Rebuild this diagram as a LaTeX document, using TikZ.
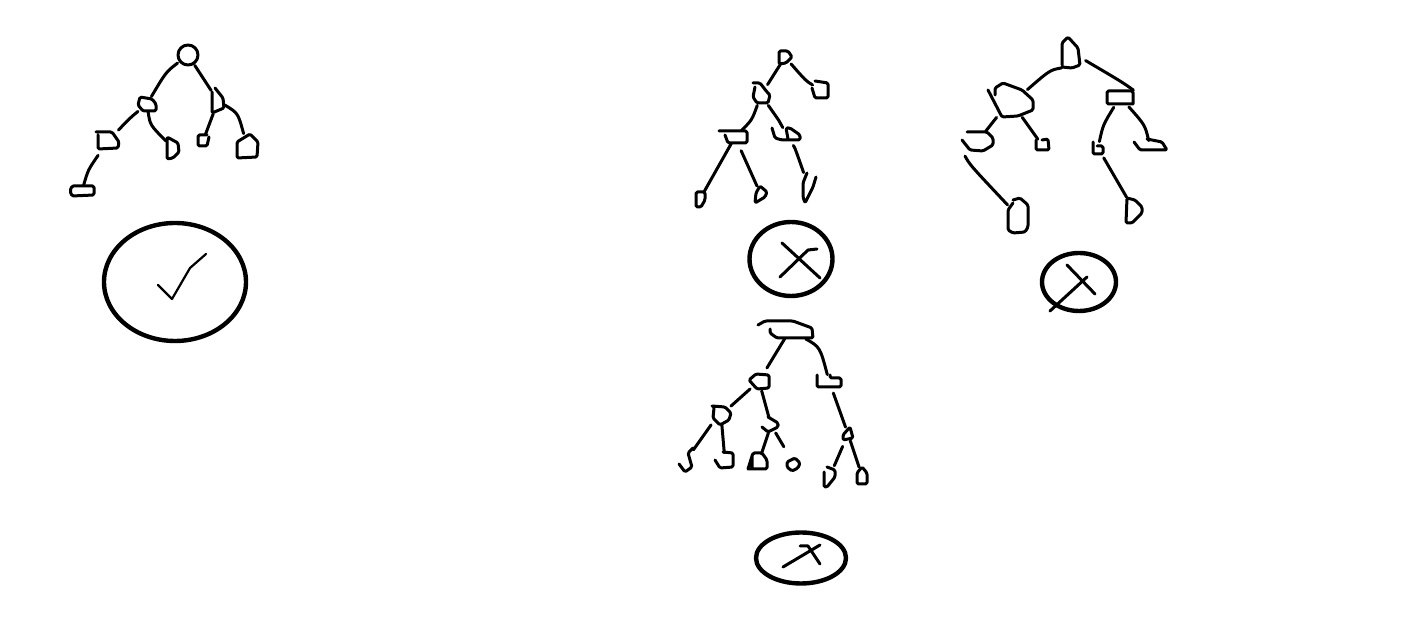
\documentclass[tikz,border=0pt]{standalone}
\usetikzlibrary{shapes.geometric}

\tikzset{
  ink/.style={line width=1.5pt,line cap=round,line join=round},
  outline/.style={ink,rounded corners=0.7pt},
  hub/.style 2 args={inner sep=0pt,minimum width=#1*0.5pt,minimum height=#2*0.5pt},
  badge/.style={ellipse,draw,line width=2.2pt,inner sep=0pt}
}
% name, centre, width, height, hand drawn outline
\newcommand{\blob}[5]{\node[hub={#3}{#4}] (#1) at (#2) {}; \draw[outline] #5;}

\begin{document}
\begin{tikzpicture}[x=0.5pt,y=-0.5pt]
    \useasboundingbox (0,0) rectangle (1405,641);

    % left tree
    \blob{aroot}{188,55}{20}{20}{(188,55) circle [radius=10]}
    \blob{al}{147,104}{18}{14}{(140,97) -- (152,99) -- (156,104) -- (156,111) -- (143,111) -- (138,105) -- cycle}
    \blob{ar}{218,101}{13}{25}{(215,88) -- (223,98) -- (224,108) -- (212,113) -- (212,92)}
    \blob{all}{108,141}{23}{18}{(96,132) -- (112,132) -- (119,142) -- (118,148) -- (98,149) -- (98,135)}
    \blob{alr}{173,148}{13}{22}{(167,137) -- (178,143) -- (179,152) -- (173,158) -- (167,159) -- cycle}
    \blob{arl}{203,141}{11}{12}{(207,135) -- (198,135) -- (198,146) -- (207,146) -- (209,137)}
    \blob{arr}{247,146}{21}{24}{(237,142) -- (250,134) -- (258,142) -- (257,157) -- (237,158) -- cycle}
    \blob{alll}{82,191}{24}{10}{(72,186) -- (94,186) -- (94,195) -- (72,196) -- (70,191) -- cycle}
    \draw[ink] (aroot) .. controls (166,72) .. (al);
    \draw[ink] (aroot) -- (ar);
    \draw[ink,shorten >=1pt] (al) .. controls (130,118) .. (all);
    \draw[ink] (al) .. controls (150,125) .. (alr);
    \draw[ink] (ar) -- (arl);
    \draw[ink] (ar) .. controls (238,113) .. (arr);
    \draw[ink,shorten <=3pt] (all) .. controls (88,170) .. (alll);
    \node[badge,minimum width=142*0.5pt,minimum height=118*0.5pt] (aok) at (175,282) {};
    \draw[ink,line width=1.1pt] (158,285) -- (172,299) -- (190,268) -- (206,254);

    % middle tree
    \blob{broot}{785,57}{13}{13}{(779,64) -- (779,51) -- (788,51) -- (792,57) -- (786,63) -- cycle}
    \blob{bq}{821,90}{16}{17}{(815,81) -- (828,83) -- (828,98) -- (815,98) -- (812,88)}
    \blob{bl}{761,95}{17}{20}{(753,83) -- (760,83) -- (767,92) -- (770,95) -- (768,103) -- (757,103) -- (753,97) -- (755,87)}
    \blob{bll}{735,137}{28}{12}{(719,131) -- (747,131) -- (747,143) -- (728,143) -- (725,135)}
    \blob{blr}{786,134}{28}{12}{(772,128) -- (775,138) -- (782,140) -- (800,140) -- (800,135) -- (790,128) -- (786,128) -- (788,139)}
    \blob{blll}{700,199}{9}{15}{(696,192) -- (705,192) -- (705,200) -- (701,207) -- (696,207) -- cycle}
    \blob{bllr}{761,195}{12}{17}{(760,186) -- (767,192) -- (765,197) -- (755,203) -- (756,193) -- cycle}
    \blob{blrr}{809,188}{13}{30}{(816,177) -- (813,187) -- (805,203) -- (803,197) -- (803,183) -- (807,173)}
    \draw[ink] (broot) -- (bl);
    \draw[ink] (broot) .. controls (806,81) .. (bq);
    \draw[ink] (bl) .. controls (752,120) .. (bll);
    \draw[ink] (bl) .. controls (780,122) .. (blr);
    \draw[ink] (bll) -- (blll);
    \draw[ink,shorten <=4pt] (bll) -- (bllr);
    \draw[ink,shorten <=3pt] (blr) .. controls (795,148) .. (blrr);
    \node[badge,minimum width=83*0.5pt,minimum height=74*0.5pt] (bno) at (791,259) {};
    \draw[ink] (782,243) -- (820,278);
    \draw[ink] (780,277) -- (808,250) -- (817,249);

    % right tree
    \blob{croot}{1071,52}{18}{31}{(1062,65) -- (1062,43) -- (1068,37) -- (1078,48) -- (1080,65) -- (1072,68) -- (1062,67)}
    \blob{cl}{1012,103}{30}{28}{(995,95) -- (995,88) -- (1003,83) -- (1022,90) -- (1033,100) -- (1033,110) -- (1018,116) -- (1002,117) -- (988,90)}
    \blob{cr}{1120,97}{26}{13}{(1133,104) -- (1107,104) -- (1107,91) -- (1133,91) -- (1133,104)}
    \blob{cll}{978,141}{31}{19}{(967,132) -- (987,132) -- (993,138) -- (993,145) -- (983,151) -- (970,150) -- (962,140)}
    \blob{clr}{1042,145}{13}{11}{(1036,140) -- (1036,150) -- (1049,150) -- (1048,139) -- (1042,140)}
    \blob{crl}{1098,148}{10}{12}{(1093,142) -- (1093,154) -- (1103,154) -- (1103,146) -- (1097,146)}
    \blob{crr}{1150,146}{33}{10}{(1134,142) -- (1140,150) -- (1167,150) -- (1162,142) -- (1147,139)}
    \blob{clll}{1018,216}{20}{35}{(1013,203) -- (1008,210) -- (1008,230) -- (1013,233) -- (1025,232) -- (1028,227) -- (1028,205) -- (1020,198) -- (1013,200)}
    \blob{crrr}{1134,210}{16}{25}{(1127,198) -- (1135,200) -- (1142,207) -- (1142,213) -- (1132,223) -- (1126,223) -- cycle}
    \draw[ink] (croot.south west) .. controls (1050,70) .. (cl);
    \draw[ink,shorten <=3pt] (croot) .. controls (1122,82) .. (cr.north east);
    \draw[ink] (cl.south west) -- (cll);
    \draw[ink] (cl) -- (clr);
    \draw[ink,shorten <=2pt] (cr) .. controls (1103,125) .. (crl);
    \draw[ink,shorten <=2pt] (cr) .. controls (1145,125) .. (crr);
    \draw[ink,shorten <=3pt] (cll.south west) .. controls (970,165) .. (clll);
    \draw[ink,shorten <=2pt] (crl) -- (crrr);
    \node[badge,minimum width=74*0.5pt,minimum height=58*0.5pt] (cno) at (1079,282) {};
    \draw[ink] (1067,265) -- (1095,294);
    \draw[ink] (1087,277) -- (1050,311);

    % bottom tree
    \blob{droot}{790,330}{45}{17}{(758,325) -- (765,321) -- (793,321) -- (812,328) -- (813,338) -- (777,338) -- (770,333) -- (770,329)}
    \blob{dl}{759,381}{20}{15}{(749,380) -- (756,374) -- (769,375) -- (769,388) -- (757,389) -- cycle}
    \blob{dr}{829,381}{24}{12}{(817,375) -- (817,387) -- (841,387) -- (841,378) -- (830,378) -- (830,375)}
    \blob{dll}{721,415}{19}{19}{(712,406) -- (725,407) -- (731,413) -- (729,420) -- (720,425) -- (713,418) -- (714,408)}
    \blob{dlr}{771,425}{16}{15}{(768,417) -- (778,423) -- (778,427) -- (768,432) -- (762,427)}
    \blob{drr}{848,434}{10}{13}{(850,427) -- (853,438) -- (843,440) -- (843,435) -- cycle}
    \blob{dlll}{686,460}{14}{24}{(693,448) -- (688,453) -- (692,467) -- (685,472) -- (679,464)}
    \blob{dllr}{725,461}{18}{16}{(723,452) -- (733,453) -- (733,467) -- (720,468) -- (715,460)}
    \blob{dlrl}{759,461}{19}{16}{(748,469) -- (767,469) -- (767,460) -- (762,453) -- (753,453) -- (748,469) (752,455) -- (752,469)}
    \blob{dlrr}{794,464}{13}{13}{(787,462) -- (795,458) -- (800,463) -- (798,468) -- (792,471) -- (787,467) -- cycle}
    \blob{drrl}{829,478}{11}{20}{(827,467) -- (835,470) -- (835,477) -- (827,487) -- (824,487) -- (824,472)}
    \blob{drrr}{862,476}{10}{17}{(862,467) -- (867,473) -- (867,484) -- (857,484) -- (857,473) -- cycle}
    \draw[ink,shorten >=3pt] (droot) -- (dl);
    \draw[ink] (droot) .. controls (820,347) .. (dr);
    \draw[ink] (dl) -- (dll);
    \draw[ink,shorten <=1pt] (dl) -- (dlr);
    \draw[ink] (dll.south west) .. controls (702,438) .. (dlll);
    \draw[ink] (dll) -- (dllr);
    \draw[ink] (dlr) -- (dlrl);
    \draw[ink,shorten >=6pt] (dlr) -- (dlrr);
    \draw[ink,shorten <=3pt] (dr) -- (drr);
    \draw[ink,shorten <=3pt,shorten >=1pt] (drr) -- (drrl);
    \draw[ink] (drr) -- (drrr);
    \node[badge,minimum width=90*0.5pt,minimum height=51*0.5pt] (dno) at (801,558) {};
    \draw[ink] (783,567) -- (820,545);
    \draw[ink] (800,546) -- (808,546) -- (820,564);
\end{tikzpicture}
\end{document}
